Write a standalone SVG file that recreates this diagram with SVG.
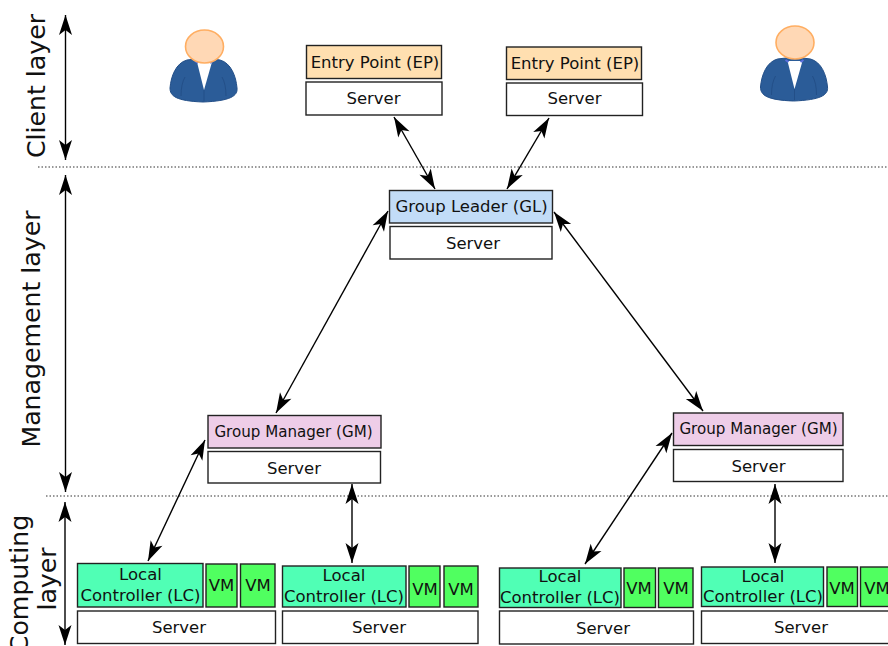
<svg xmlns="http://www.w3.org/2000/svg" xmlns:xlink="http://www.w3.org/1999/xlink" width="888" height="646" viewBox="0 0 888 646">
<style>
text{font-family:"DejaVu Sans",sans-serif;fill:#111;text-anchor:middle}
.t{font-size:16.5px}
.g{font-size:15.1px}
.l{font-size:25.2px}
rect{stroke:#222;stroke-width:1.4}
.srv{fill:#fff}.ep{fill:#ffdfb0}.gl{fill:#c2dcf7}.gm{fill:#eecde8}.lc{fill:#50ffb5}.vm{fill:#50ff60}
.a{stroke:#000;stroke-width:1.4;fill:none;marker-start:url(#h);marker-end:url(#h)}
.d{stroke:#333;stroke-width:1.2;stroke-dasharray:1.5 2;fill:none}
</style>
<defs>
<marker id="h" markerUnits="userSpaceOnUse" markerWidth="22" markerHeight="16" refX="21" refY="8" orient="auto-start-reverse" viewBox="0 0 22 16"><path d="M21 8L1 1.5L6 8L1 14.5Z" fill="#000"/></marker>
<g id="body">
<path d="M187 60C176 63 171 76 170 88C170 96 176 101 203 102C230 101 238 96 237 88C236 76 231 63 220 60L204 58Z" fill="#2b5c98" stroke="#234f88" stroke-width="1"/>
<path d="M197 62H212L204 90Z" fill="#fff"/>
<path d="M195 61L198 63M213 61L210 63" stroke="#5a6fe0" stroke-width="2"/>
<path d="M204 90V101M185 77Q181 84 181 96M222 77Q226 84 226 96" stroke="#234f88" stroke-width="1" fill="none"/>
</g>
<ellipse id="head" cx="204.500" cy="46.500" rx="19" ry="16.500" fill="#ffd8b5" stroke="#ffae62" stroke-width="1.6"/>
</defs>
<g id="connectors">
<path class="d" d="M38 167H888M46 496H888"/>
<path class="a" d="M65.500 15V160"/>
<path class="a" d="M65.500 175V492"/>
<path class="a" d="M65 502V645"/>
<path class="a" d="M394 117L435 189"/>
<path class="a" d="M549 118L507 189"/>
<path class="a" d="M388 211L276 413"/>
<path class="a" d="M554 212L703 411"/>
<path class="a" d="M205 440L148 561"/>
<path class="a" d="M352 484V563"/>
<path class="a" d="M672 433L585 564"/>
<path class="a" d="M775 484V563"/>
</g>
<g id="layer-labels">
<text class="l" transform="translate(45 86) rotate(-90)">Client layer</text>
<text class="l" transform="translate(40 329) rotate(-90)">Management layer</text>
<text class="l" transform="translate(28 584) rotate(-90)">Computing</text>
<text class="l" transform="translate(56 579) rotate(-90)">layer</text>
</g>
<g id="user-1"><use xlink:href="#body" href="#body"/><use xlink:href="#head" href="#head"/></g>
<g id="user-2"><use xlink:href="#body" href="#body" x="590.500" y="-1"/><use xlink:href="#head" href="#head" x="590.500" y="-4"/></g>
<g id="ep-1"><rect class="ep" x="306.500" y="45.500" width="135" height="33"/><text class="t" x="375" y="68">Entry Point (EP)</text></g>
<g id="ep-1-server"><rect class="srv" x="306" y="82" width="136" height="33"/><text class="t" x="373.500" y="104">Server</text></g>
<g id="ep-2"><rect class="ep" x="506.500" y="47" width="135" height="32.500"/><text class="t" x="575" y="68.500">Entry Point (EP)</text></g>
<g id="ep-2-server"><rect class="srv" x="506.500" y="83" width="136" height="32.500"/><text class="t" x="574.500" y="104">Server</text></g>
<g id="gl"><rect class="gl" x="389.500" y="190.500" width="163" height="32.500"/><text class="t" x="471.500" y="212">Group Leader (GL)</text></g>
<g id="gl-server"><rect class="srv" x="390" y="226.500" width="162" height="32.500"/><text class="t" x="473" y="249">Server</text></g>
<g id="gm-1"><rect class="gm" x="208" y="415.500" width="173" height="32.500"/><text class="g" x="293.500" y="437">Group Manager (GM)</text></g>
<g id="gm-1-server"><rect class="srv" x="208" y="451.500" width="172.500" height="31.500"/><text class="t" x="294" y="474">Server</text></g>
<g id="gm-2"><rect class="gm" x="673.500" y="413" width="169.500" height="32.500"/><text class="g" x="758.500" y="434">Group Manager (GM)</text></g>
<g id="gm-2-server"><rect class="srv" x="673.500" y="449.500" width="169.500" height="32"/><text class="t" x="758.500" y="472">Server</text></g>
<g id="lc-1"><rect class="lc" x="77.500" y="563.500" width="125.500" height="43.500"/><text class="t" x="140.500" y="580">Local</text><text class="t" x="140.500" y="600.500">Controller (LC)</text></g>
<g id="vm-1a"><rect class="vm" x="206" y="564" width="31" height="43"/><text class="t" x="221.500" y="591">VM</text></g>
<g id="vm-1b"><rect class="vm" x="240.500" y="564" width="34.500" height="43"/><text class="t" x="258" y="591">VM</text></g>
<g id="lc-1-server"><rect class="srv" x="77.500" y="611" width="198" height="32.500"/><text class="t" x="179" y="633">Server</text></g>
<g id="lc-2"><rect class="lc" x="282.500" y="566" width="123.500" height="41"/><text class="t" x="344" y="581">Local</text><text class="t" x="344" y="601.500">Controller (LC)</text></g>
<g id="vm-2a"><rect class="vm" x="409" y="566" width="31" height="41"/><text class="t" x="425" y="595">VM</text></g>
<g id="vm-2b"><rect class="vm" x="444" y="566" width="34" height="41"/><text class="t" x="461" y="595">VM</text></g>
<g id="lc-2-server"><rect class="srv" x="282.500" y="611" width="195.500" height="32.500"/><text class="t" x="379" y="633">Server</text></g>
<g id="lc-3"><rect class="lc" x="499.500" y="568" width="121.500" height="39.500"/><text class="t" x="560" y="582">Local</text><text class="t" x="560" y="603">Controller (LC)</text></g>
<g id="vm-3a"><rect class="vm" x="624" y="568" width="31.500" height="39.500"/><text class="t" x="639" y="594">VM</text></g>
<g id="vm-3b"><rect class="vm" x="658.500" y="568" width="34.500" height="39.500"/><text class="t" x="676" y="594">VM</text></g>
<g id="lc-3-server"><rect class="srv" x="499.500" y="611" width="194" height="33"/><text class="t" x="603" y="634">Server</text></g>
<g id="lc-4"><rect class="lc" x="701.500" y="567" width="122" height="39.500"/><text class="t" x="763" y="582">Local</text><text class="t" x="763" y="602">Controller (LC)</text></g>
<g id="vm-4a"><rect class="vm" x="827" y="567" width="30.500" height="39.500"/><text class="t" x="842" y="594">VM</text></g>
<g id="vm-4b"><rect class="vm" x="860.500" y="567" width="34" height="39.500"/><text class="t" x="877" y="594">VM</text></g>
<g id="lc-4-server"><rect class="srv" x="701.500" y="611" width="193" height="32.500"/><text class="t" x="801" y="633">Server</text></g>
</svg>
